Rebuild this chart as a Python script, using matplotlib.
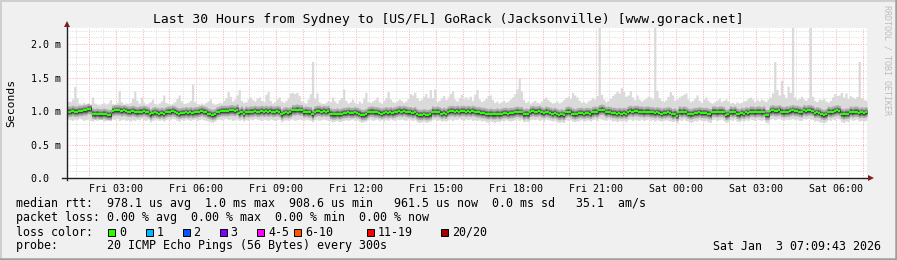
import numpy as np
import pandas as pd
import matplotlib
matplotlib.use('Agg')
import matplotlib.pyplot as plt
import matplotlib.dates as mdates
from matplotlib.patches import Rectangle
from matplotlib.lines import Line2D

W, H = 897, 260

title = 'Last 30 Hours from Sydney to [US/FL] GoRack (Jacksonville) [www.gorack.net]'
end_time = '2026-01-03 07:09:43'
span_hours = 30
step_seconds = 300

# median rtt of each 5 minute round, in 1/100 ms
median_rtt = [
    99, 99, 100, 99, 99, 100, 100, 101, 101, 103,
    103, 96, 95, 96, 95, 95, 96, 95, 94, 94,
    100, 101, 101, 101, 100, 101, 100, 99, 99, 100,
    99, 98, 99, 99, 100, 99, 98, 95, 97, 98,
    97, 96, 97, 96, 98, 99, 99, 100, 99, 97,
    96, 97, 97, 98, 97, 98, 97, 98, 98, 99,
    100, 99, 98, 96, 95, 94, 95, 98, 99, 100,
    100, 100, 100, 101, 101, 100, 102, 97, 99, 96,
    99, 98, 99, 99, 100, 99, 99, 100, 99, 100,
    99, 100, 99, 99, 100, 99, 95, 97, 98, 97,
    98, 101, 101, 102, 101, 101, 98, 99, 98, 98,
    95, 99, 100, 100, 99, 100, 99, 100, 96, 95,
    95, 96, 95, 96, 97, 97, 98, 97, 97, 98,
    97, 96, 94, 94, 95, 98, 99, 99, 98, 98,
    97, 96, 97, 98, 97, 98, 97, 98, 99, 100,
    99, 100, 99, 98, 98, 97, 98, 95, 94, 94,
    95, 94, 94, 95, 99, 98, 99, 98, 96, 97,
    96, 99, 100, 100, 99, 100, 99, 100, 100, 99,
    100, 99, 100, 99, 98, 98, 97, 97, 96, 95,
    96, 95, 95, 96, 95, 96, 97, 97, 96, 97,
    97, 98, 99, 98, 98, 95, 96, 95, 99, 100,
    99, 99, 100, 98, 97, 99, 98, 97, 96, 97,
    95, 94, 95, 94, 98, 99, 98, 96, 95, 96,
    97, 97, 96, 97, 97, 96, 98, 99, 98, 101,
    102, 101, 98, 99, 98, 97, 97, 96, 97, 96,
    97, 96, 99, 100, 99, 100, 100, 99, 99, 98,
    99, 99, 98, 98, 97, 98, 97, 96, 97, 97,
    98, 97, 95, 96, 93, 99, 98, 99, 98, 96,
    95, 96, 97, 97, 98, 97, 97, 97, 96, 95,
    99, 99, 98, 99, 99, 98, 94, 95, 99, 98,
    99, 96, 95, 97, 96, 98, 97, 99, 99, 98,
    99, 99, 98, 99, 94, 94, 100, 101, 100, 100,
    101, 99, 98, 99, 99, 100, 101, 100, 100, 99,
    98, 101, 100, 101, 101, 100, 97, 98, 97, 95,
    94, 95, 99, 98, 99, 100, 101, 100, 96, 95,
    96, 96, 99, 98, 99, 99, 97, 98, 97, 98,
]

# slowest ping of each round, in 1/100 ms
max_rtt = [
    115, 114, 118, 137, 120, 112, 110, 113, 111, 112,
    110, 121, 112, 110, 109, 111, 113, 110, 112, 117,
    111, 110, 113, 130, 114, 110, 112, 111, 113, 119,
    130, 116, 112, 121, 113, 110, 112, 114, 118, 111,
    110, 112, 115, 124, 113, 111, 110, 112, 114, 119,
    124, 115, 111, 112, 113, 116, 140, 114, 111, 110,
    112, 110, 113, 115, 118, 112, 110, 111, 113, 112,
    116, 120, 129, 122, 115, 118, 124, 132, 116, 113,
    114, 118, 121, 117, 115, 119, 121, 116, 114, 125,
    129, 116, 112, 114, 118, 121, 115, 113, 116, 120,
    127, 128, 126, 128, 123, 115, 113, 112, 118, 126,
    174, 119, 127, 114, 112, 111, 113, 116, 114, 121,
    115, 112, 117, 120, 133, 116, 112, 114, 118, 113,
    111, 115, 112, 119, 128, 114, 113, 115, 117, 121,
    114, 112, 116, 120, 129, 118, 114, 113, 115, 118,
    116, 113, 115, 119, 126, 124, 128, 120, 116, 118,
    122, 126, 120, 132, 120, 133, 114, 116, 119, 123,
    117, 121, 126, 130, 118, 115, 120, 125, 118, 121,
    118, 122, 116, 125, 132, 118, 114, 116, 119, 123,
    124, 117, 113, 115, 112, 114, 116, 113, 115, 118,
    121, 126, 133, 150, 130, 117, 113, 115, 112, 114,
    116, 113, 112, 115, 119, 121, 117, 114, 112, 113,
    115, 112, 114, 117, 120, 122, 119, 128, 124, 121,
    116, 113, 114, 112, 115, 117, 120, 118, 123, 230,
    125, 118, 114, 116, 119, 123, 126, 130, 127, 135,
    129, 122, 124, 130, 121, 117, 124, 118, 115, 117,
    119, 122, 121, 118, 230, 131, 120, 116, 114, 117,
    122, 129, 124, 116, 118, 121, 123, 125, 127, 118,
    114, 116, 119, 124, 116, 113, 118, 121, 116, 113,
    112, 114, 116, 119, 114, 116, 118, 115, 112, 113,
    111, 114, 112, 113, 115, 116, 119, 121, 118, 114,
    117, 115, 118, 116, 114, 118, 121, 127, 174, 132,
    124, 146, 125, 120, 137, 128, 230, 121, 117, 119,
    122, 118, 116, 120, 230, 122, 116, 114, 118, 117,
    119, 115, 113, 116, 121, 126, 123, 124, 128, 121,
    127, 119, 123, 121, 119, 122, 174, 120, 117, 116,
]

# fastest ping of each round, in 1/100 ms
min_rtt = [
    88, 87, 86, 88, 87, 89, 88, 86, 87, 88,
    86, 85, 87, 86, 88, 87, 85, 86, 87, 86,
    88, 87, 89, 86, 87, 88, 86, 87, 85, 87,
    86, 88, 87, 89, 87, 86, 88, 84, 86, 87,
    88, 86, 87, 85, 87, 88, 87, 89, 88, 86,
    85, 87, 86, 88, 87, 86, 87, 88, 86, 87,
    88, 87, 86, 85, 84, 83, 85, 87, 88, 87,
    88, 89, 87, 88, 86, 87, 88, 86, 87, 85,
    87, 86, 88, 87, 89, 88, 87, 86, 88, 87,
    86, 88, 87, 86, 87, 88, 84, 86, 87, 86,
    87, 88, 86, 87, 88, 87, 86, 88, 87, 86,
    84, 87, 88, 86, 87, 88, 87, 86, 85, 84,
    85, 86, 84, 85, 86, 87, 86, 87, 88, 86,
    87, 85, 83, 84, 85, 87, 88, 86, 87, 88,
    86, 87, 85, 87, 86, 88, 87, 86, 88, 87,
    88, 87, 86, 88, 87, 86, 87, 84, 83, 84,
    85, 83, 84, 85, 87, 88, 86, 87, 85, 86,
    85, 87, 88, 86, 88, 87, 89, 87, 86, 88,
    87, 88, 86, 87, 86, 87, 85, 86, 84, 83,
    85, 84, 83, 85, 84, 86, 85, 87, 86, 85,
    86, 87, 88, 86, 87, 84, 85, 84, 87, 88,
    87, 88, 86, 87, 85, 88, 87, 86, 85, 86,
    84, 83, 84, 83, 87, 86, 87, 85, 84, 85,
    86, 87, 85, 86, 87, 85, 87, 88, 86, 89,
    88, 87, 86, 88, 87, 85, 86, 84, 86, 85,
    86, 84, 87, 88, 86, 88, 87, 86, 88, 86,
    87, 88, 86, 87, 85, 87, 86, 85, 86, 87,
    86, 85, 84, 85, 82, 87, 86, 88, 86, 85,
    83, 84, 86, 85, 87, 86, 85, 86, 84, 83,
    87, 88, 86, 87, 88, 86, 83, 84, 87, 86,
    88, 85, 84, 86, 85, 87, 86, 88, 87, 86,
    88, 87, 86, 87, 83, 82, 88, 89, 87, 88,
    89, 87, 86, 88, 87, 88, 89, 87, 88, 86,
    86, 89, 88, 89, 88, 87, 85, 86, 84, 83,
    82, 84, 87, 86, 88, 87, 89, 88, 84, 83,
    85, 84, 88, 86, 87, 88, 85, 86, 85, 86,
]

ytick_vals = [0.0, 0.5, 1.0, 1.5, 2.0]
ytick_labels = ['0.0  ', '0.5 m', '1.0 m', '1.5 m', '2.0 m']
xtick_times = ['2026-01-02 03:00', '2026-01-02 06:00', '2026-01-02 09:00',
               '2026-01-02 12:00', '2026-01-02 15:00', '2026-01-02 18:00',
               '2026-01-02 21:00', '2026-01-03 00:00', '2026-01-03 03:00',
               '2026-01-03 06:00']
xtick_labels = ['Fri 03:00', 'Fri 06:00', 'Fri 09:00', 'Fri 12:00', 'Fri 15:00',
                'Fri 18:00', 'Fri 21:00', 'Sat 00:00', 'Sat 03:00', 'Sat 06:00']

loss_labels = ['0', '1', '2', '3', '4-5', '6-10', '11-19', '20/20']
loss_colors = ['#26FF00', '#00B8FF', '#0059FF', '#7E00FF', '#FF00FF',
               '#FF5500', '#FF0000', '#A00000']

stat_lines = [
    'median rtt:  978.1 us avg  1.0 ms max  908.6 us min   961.5 us now  0.0 ms sd   35.1  am/s',
    'packet loss: 0.00 % avg  0.00 % max  0.00 % min  0.00 % now',
    'loss color:',
    'probe:       20 ICMP Echo Pings (56 Bytes) every 300s',
]
stamp = 'Sat Jan  3 07:09:43 2026'


MONO = 'DejaVu Sans Mono'
plt.rcParams['lines.scale_dashes'] = False


def fx(px):
    return px / W


def fy(py):
    return 1 - py / H


def ext(a):
    return np.append(a, a[-1])


med = np.array(median_rtt) / 100.0
hi = np.array(max_rtt) / 100.0
lo = np.array(min_rtt) / 100.0

end = pd.Timestamp(end_time)
start = end - pd.Timedelta(hours=span_hours)
times = pd.date_range(start, periods=len(med) + 1, freq='%ds' % step_seconds)
x = mdates.date2num(times.to_pydatetime())

fig = plt.figure(figsize=(W / 100, H / 100), dpi=100, facecolor='#F0F0F0')
ax = fig.add_axes([fx(67), fy(178), fx(800), 150 / H])
ax.set_facecolor('white')
ax.set_xlim(mdates.date2num(start.to_pydatetime()), mdates.date2num(end.to_pydatetime()))
ax.set_ylim(0, 2.24)

# grid: grey every 0.1 ms / 30 min, red every 0.5 ms / hour
dots = (0, (0.72, 1.0))
red_grid = '#F4B4B4'
grey_grid = '#DCDCDC'
for v in np.arange(1, 23) / 10.0:
    major = abs(v * 2 - round(v * 2)) < 1e-6
    ax.axhline(v, color=red_grid if major else grey_grid, lw=0.72, ls=dots, zorder=0.5)
for g in pd.date_range(start.ceil('30min'), end, freq='30min'):
    ax.axvline(mdates.date2num(g.to_pydatetime()), color=red_grid if g.minute == 0 else grey_grid,
               lw=0.72, ls=dots, zorder=0.5)

# smoke
ax.fill_between(x, ext(lo), ext(hi), step='post', color='#DADADA', lw=0, zorder=1)
mid_lo = np.maximum(lo, med - 0.07)
mid_hi = np.minimum(hi, med + 0.085)
ax.fill_between(x, ext(mid_lo), ext(mid_hi), step='post', color='#ADADAD', lw=0, zorder=1.1)
in_lo = np.maximum(lo, med - 0.04)
in_hi = np.minimum(hi, med + 0.05)
ax.fill_between(x, ext(in_lo), ext(in_hi), step='post', color='#707070', lw=0, zorder=1.2)
ax.fill_between(x, ext(med - 0.02), ext(med + 0.025), step='post', color='#3C3C3C', lw=0, zorder=1.3)

# median, coloured by loss (no loss here)
ax.hlines(med, x[:-1], x[1:], color=loss_colors[0], lw=1.5, zorder=3)

for s in ax.spines.values():
    s.set_visible(False)

ax.set_yticks(ytick_vals, ytick_labels)
ax.tick_params(axis='y', length=0, pad=26)
for t in ax.get_yticklabels():
    t.set_ha('left')
    t.set_fontfamily(MONO)
    t.set_fontsize(7.2)
xt = [mdates.date2num(pd.Timestamp(s).to_pydatetime()) for s in xtick_times]
ax.set_xticks(xt, xtick_labels)
ax.tick_params(axis='x', length=0, pad=4)
for t in ax.get_xticklabels():
    t.set_fontfamily(MONO)
    t.set_fontsize(7.2)

# axes with arrows
axis_col = '#1F1F1F'
arrow_col = '#7F1F1F'
ax.add_line(Line2D([0, 0], [-0.013, 1.015], transform=ax.transAxes, color=axis_col,
                   lw=1, clip_on=False, zorder=4))
ax.add_line(Line2D([-0.006, 1.002], [0, 0], transform=ax.transAxes, color=axis_col,
                   lw=1, clip_on=False, zorder=4))
ax.plot([0], [1.027], marker='^', ms=4.5, color=arrow_col, transform=ax.transAxes,
        clip_on=False, zorder=5, mew=0)
ax.plot([1.0045], [0], marker='>', ms=4.5, color=arrow_col, transform=ax.transAxes,
        clip_on=False, zorder=5, mew=0)

fig.text(fx(448), fy(19), title, ha='center', va='center', fontfamily=MONO, fontsize=9.4)
fig.text(fx(11), fy(103), 'Seconds', rotation=90, ha='center', va='center',
         fontfamily=MONO, fontsize=8.2)
fig.text(fx(887), fy(60), 'RRDTOOL / TOBI OETIKER', rotation=270, ha='center', va='center',
         fontfamily=MONO, fontsize=6, color='#BDBDBD')

row_y = [204, 218, 232, 246]
for line, yy in zip(stat_lines, row_y):
    fig.text(fx(16), fy(yy), line, ha='left', va='center', fontfamily=MONO, fontsize=8.4)
fig.text(fx(881), fy(246), stamp, ha='right', va='center', fontfamily=MONO, fontsize=8.4)

box_x = [108, 145.5, 182.5, 219.5, 257, 294, 367, 441]
for bx, lab, col in zip(box_x, loss_labels, loss_colors):
    fig.add_artist(Rectangle((fx(bx), fy(236)), fx(7), 7 / H, transform=fig.transFigure,
                             facecolor=col, edgecolor='black', lw=0.7))
    fig.text(fx(bx + 11), fy(232), lab, ha='left', va='center', fontfamily=MONO, fontsize=8.4)

# 3d frame
fig.add_artist(Line2D([0, 1], [fy(0.75), fy(0.75)], transform=fig.transFigure, color='#CFCFCF', lw=1.4))
fig.add_artist(Line2D([fx(0.75), fx(0.75)], [0, 1], transform=fig.transFigure, color='#CFCFCF', lw=1.4))
fig.add_artist(Line2D([0, 1], [fy(258.8), fy(258.8)], transform=fig.transFigure, color='#9E9E9E', lw=1.8))
fig.add_artist(Line2D([fx(895.8), fx(895.8)], [0, 1], transform=fig.transFigure, color='#9E9E9E', lw=1.8))

fig.savefig('out.png', dpi=100, facecolor=fig.get_facecolor())
